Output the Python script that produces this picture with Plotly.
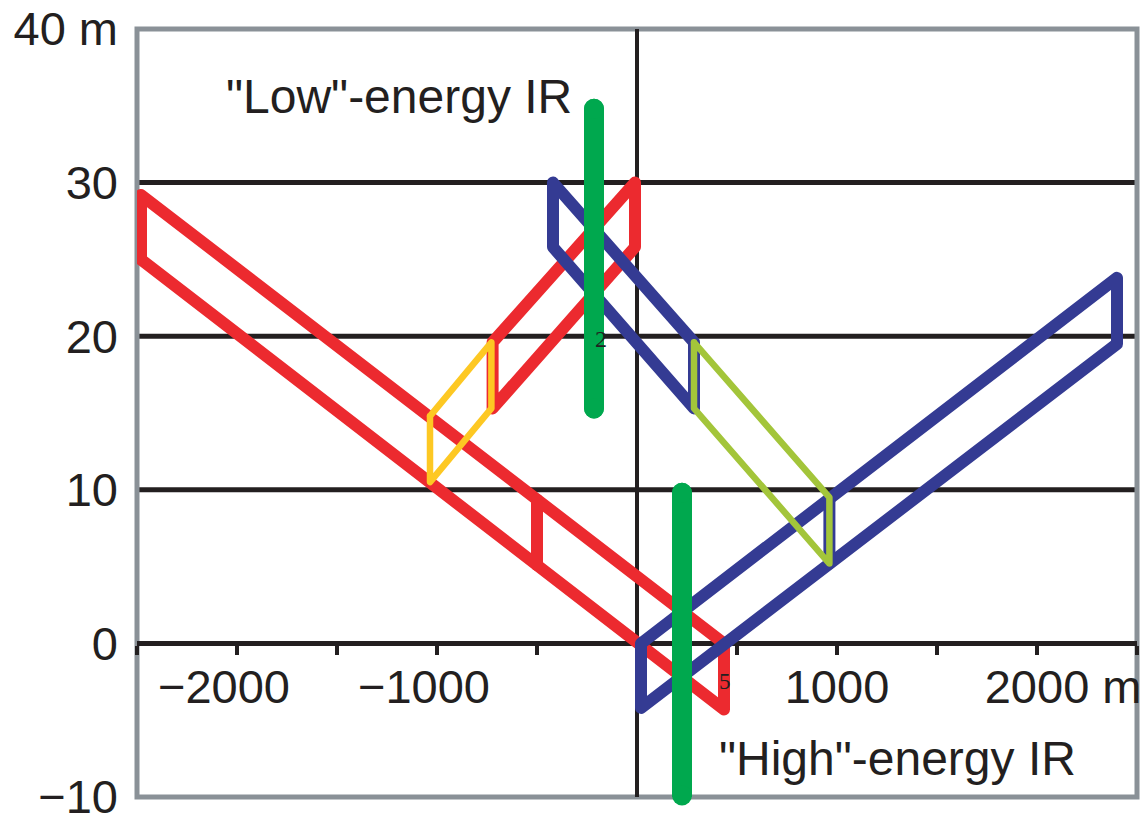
import plotly.graph_objects as go

# ---- data (metres) ----
red_long_x = [-2480, 435, 435, -2480, -2480]
red_long_y = [29.2, 0.0, -4.3, 25.0, 29.2]
red_bar_x = [-500, -500]
red_bar_y = [9.35, 5.1]
red_up_x = [-722, -10, -10, -722, -722]
red_up_y = [19.6, 30.0, 25.8, 15.3, 19.6]
yellow_x = [-1035, -728, -728, -1035, -1035]
yellow_y = [14.8, 19.6, 15.3, 10.5, 14.8]
blue_up_x = [-420, 285, 285, -420, -420]
blue_up_y = [30.0, 19.6, 15.3, 25.8, 30.0]
ygreen_x = [285, 962, 962, 285, 285]
ygreen_y = [19.6, 9.5, 5.2, 15.3, 19.6]
blue_low_x = [20, 2400, 2400, 20, 20]
blue_low_y = [0.0, 23.8, 19.5, -4.2, 0.0]
blue_bar_x = [962, 962]
blue_bar_y = [9.45, 5.2]
ir_low_x = [-215, -215]
ir_low_y = [15.3, 34.8]
ir_high_x = [225, 225]
ir_high_y = [-9.9, 9.8]

x_tickvals = [-2500, -2000, -1500, -1000, -500, 0, 500, 1000, 1500, 2000, 2500]
NB = "\u00a0"
x_ticktext = ["", "\u22122000" + NB * 2, "", "\u22121000" + NB * 2, "", "", "", "1000", "",
              NB * 4 + "2000 m", ""]
y_tickvals = [-10, 0, 10, 20, 30, 40]
y_ticktext = ["\u221210", "0", "10", "20", "30", "40 m"]
grid_y = [10, 20, 30]

RED = "#EC2A2F"
BLUE = "#343B93"
YEL = "#FDC823"
YG = "#A3C53A"
GRN = "#00A84E"
INK = "#231F20"
GREY = "#8A9197"
FONT = "Liberation Sans, Arial, Helvetica, sans-serif"

fig = go.Figure()


def line(x, y, color, width):
    fig.add_trace(go.Scatter(x=x, y=y, mode="lines", line=dict(color=color, width=width),
                             hoverinfo="skip", showlegend=False))


line(red_long_x, red_long_y, RED, 12)
line(red_bar_x, red_bar_y, RED, 12)
line(red_up_x, red_up_y, RED, 12)
line(blue_up_x, blue_up_y, BLUE, 12)
line(blue_low_x, blue_low_y, BLUE, 12)
line(blue_bar_x, blue_bar_y, BLUE, 12)
line(yellow_x, yellow_y, YEL, 6.5)
line(ygreen_x, ygreen_y, YG, 6.5)
for gx, gy in [(ir_low_x, ir_low_y), (ir_high_x, ir_high_y)]:
    fig.add_trace(go.Scatter(x=gx, y=gy, mode="lines+markers",
                             line=dict(color=GRN, width=20),
                             marker=dict(color=GRN, size=20, line=dict(width=0)),
                             cliponaxis=False, hoverinfo="skip", showlegend=False))

# grid lines
for g in grid_y:
    fig.add_shape(type="line", xref="paper", x0=0, x1=1, yref="y", y0=g, y1=g,
                  line=dict(color=INK, width=5), layer="below")

# frame
fig.add_shape(type="rect", xref="paper", yref="paper", x0=0, x1=1, y0=0, y1=1,
              line=dict(color=GREY, width=5), layer="between")

fig.add_annotation(x=-1190, y=35.6, text='"Low"-energy IR', showarrow=False,
                   font=dict(family=FONT, size=48, color=INK), xanchor="center", yanchor="middle")
fig.add_annotation(x=1300, y=-7.5, text='"High"-energy IR', showarrow=False,
                   font=dict(family=FONT, size=48, color=INK), xanchor="center", yanchor="middle")
fig.add_annotation(x=-180, y=19.8, text="2", showarrow=False,
                   font=dict(family="Liberation Serif, Times New Roman, serif", size=24, color=INK))
fig.add_annotation(x=442, y=-2.5, text="5", showarrow=False,
                   font=dict(family="Liberation Serif, Times New Roman, serif", size=23, color=INK))

fig.update_layout(
    width=1141, height=817,
    margin=dict(l=137, r=4, t=29, b=20, autoexpand=False),
    paper_bgcolor="white", plot_bgcolor="white",
    font=dict(family=FONT, size=47, color=INK),
    xaxis=dict(range=[-2500, 2500], anchor="free", position=0.2, automargin=False,
               tickvals=x_tickvals, ticktext=x_ticktext,
               ticks="outside", ticklen=9, tickwidth=4, tickcolor=INK,
               showline=True, linecolor=INK, linewidth=5, layer="below traces",
               showgrid=False, zeroline=True, zerolinecolor=INK, zerolinewidth=4,
               ticklabelstandoff=-9, ticklabeloverflow="allow",
               tickfont=dict(family=FONT, size=47, color=INK), fixedrange=True),
    yaxis=dict(range=[-10, 40], tickvals=y_tickvals, ticktext=y_ticktext, automargin=False,
               ticks="", showgrid=False, zeroline=False, showline=False,
               ticklabelstandoff=18, ticklabeloverflow="allow",
               tickfont=dict(family=FONT, size=47, color=INK), fixedrange=True),
)

round_joins = (
    "var gd=document.getElementById('{plot_id}');"
    "function rj(){gd.querySelectorAll('.scatterlayer path.js-line').forEach(function(p){"
    "p.style.strokeLinejoin='round';p.style.strokeLinecap='round';});}"
    "rj();gd.on('plotly_afterplot',rj);"
)
fig.write_html("out.html", post_script=round_joins)
